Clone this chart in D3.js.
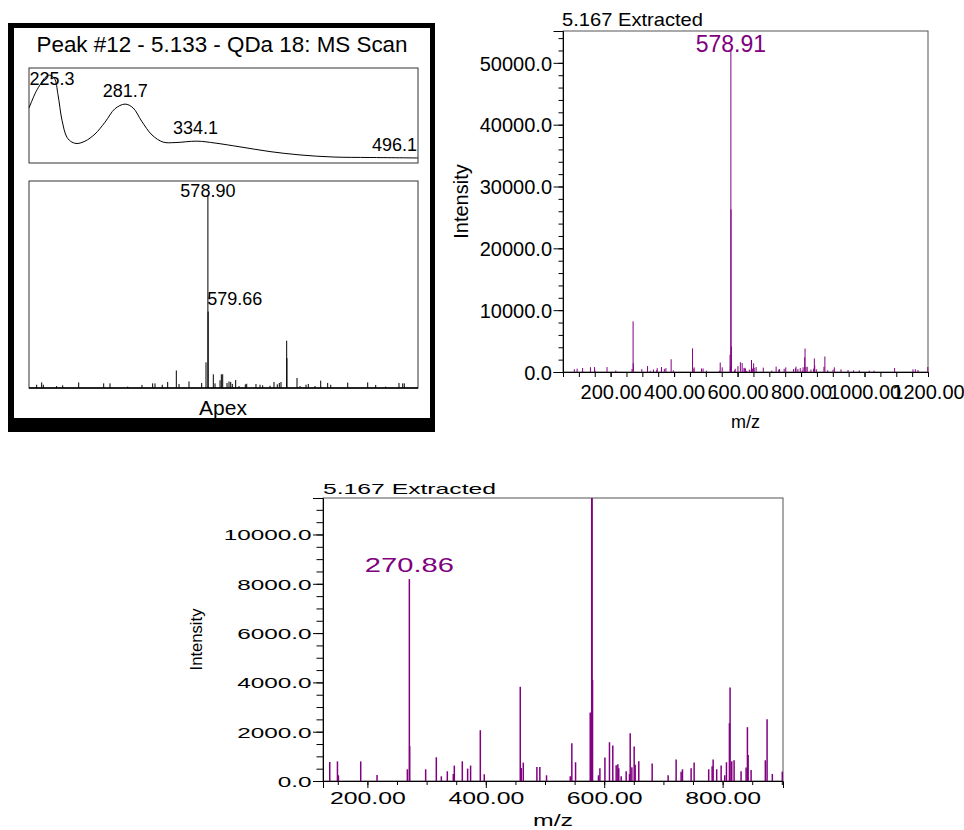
<!DOCTYPE html>
<html><head><meta charset="utf-8">
<script src="https://cdn.jsdelivr.net/npm/d3@7"></script>
<style>body{margin:0;background:#fff}svg{display:block}text{font-family:"Liberation Sans",Arial,sans-serif}</style>
</head><body><svg id="c" width="964" height="830"></svg>
<script>
// ---------------- DATA ----------------
const panelTitle = "Peak #12 - 5.133 - QDa 18: MS Scan";
const panelCaption = "Apex";
// UV spectrum (nm, relative absorbance)
const uvWavelength = [210,215.2,219,222,225.3,229,231.6,234.6,238.3,242,245.8,251.8,259.2,266.7,274,281.6,287.6,294,301.7,310,318.9,335.3,348.7,367.3,389.7,412,436.7,464.3,500];
const uvAbsorbance = [0.58,0.75,0.84,0.9,0.925,0.89,0.72,0.45,0.27,0.22,0.205,0.23,0.305,0.43,0.57,0.62,0.58,0.44,0.295,0.22,0.215,0.23,0.21,0.17,0.12,0.085,0.063,0.058,0.053];
const uvPeakLabels = [225.3, 281.7, 334.1, 496.1];
// Apex MS scan (m/z, relative intensity %)
const apexMz = [72.7,87.5,92.4,131.8,149.6,196.9,270.8,289.5,341.8,384,415.6,422.5,444,460,485.5,493.5,523,560.5,573.3,578.90,579.66,594.9,599.9,614.7,618.6,622.6,635.4,641.3,646.3,651,661,670.8,689.5,693.6,721,733,740.8,762.5,774.3,784,790,795,811.8,812.5,842.3,851.2,868.9,875.7,895.5,912.4,933,942,992.2,1051.3,1075,1104.5,1143.8,1154.8,1159.5];
const apexIntensity = [1.7,2.9,1.7,1.0,1.4,2.9,2.4,2.4,0.7,1.6,2.4,2.4,1.7,3.1,9.1,2.1,3.4,2.6,13.3,100,39.6,7.1,2.4,4.0,7.1,7.1,2.6,3.4,3.1,2.1,4.1,1.0,1.9,2.2,2.1,1.7,1.4,1.2,3.1,1.9,2.6,3.1,24.5,15.5,5.2,1.0,1.7,2.1,1.0,3.8,2.6,1.7,2.8,2.9,1.6,0.7,2.6,2.4,2.4];
const apexLabels = ["578.90", "579.66"];
// Extracted spectrum 5.167 (m/z, intensity)
const extTitle = "5.167 Extracted";
const extMz = [85.6,94.5,111.8,136.4,149.4,151.0,188.7,216.3,267.5,270.86,271.4,298.4,316.4,324.9,335.0,345.1,346.8,360.3,369.3,374.3,390.7,397.4,458.2,459.9,463.3,486.3,491.3,502.6,542.6,545.3,551.6,576.4,577.4,578.91,579.4,580.3,590.3,592.7,601.2,608.9,614.5,620.2,623.0,624.6,628.7,637.1,642.7,643.9,646.7,650.6,652.3,658.4,681.0,708.0,721.5,729.9,732.2,746.8,751.9,776.5,782.3,784.0,790.0,797.5,803.6,806.5,811.5,812.6,815.4,819.4,831.2,839.7,841.9,843.1,848.1,872.2,875.1,884.0,900.8,904.8,925.9,948.0,965.6,983.6,1015.0,1030.0,1094.8,1152.7,1160.0,1168.4,1199.5];
const extIntensity = [440,540,650,772,796,232,796,244,475,8190,1410,475,963,191,394,285,625,800,503,625,2060,272,3821,528,746,569,569,232,191,1532,760,2780,841,52000,26300,4094,232,516,951,1573,1439,638,678,516,191,392,285,1939,556,1398,664,800,706,232,868,380,475,516,746,475,597,868,475,625,232,760,2346,3797,800,841,392,543,2183,1057,448,841,2508,285,380,754,430,323,270,270,215,215,646,430,430,323,808];
const fullLabel = "578.91";
const zoomLabel = "270.86";
const xTitle = "m/z", yTitle = "Intensity";
// axis ticks
const fullXMajor = [200,400,600,800,1000,1200];
const fullYMajor = [0,10000,20000,30000,40000,50000];
const zoomXMajor = [200,400,600,800];
const zoomYMajor = [0,2000,4000,6000,8000,10000];

const PURPLE = "#800080";
const svg = d3.select("#c");

function stretch(sel, k){
  sel.each(function(){
    const w = this.getComputedTextLength();
    d3.select(this).attr("textLength", w*k).attr("lengthAdjust","spacingAndGlyphs");
  });
}

// ---------------- PANEL 1 (framed) ----------------
svg.append("rect").attr("x",8).attr("y",23).attr("width",427).attr("height",409).attr("fill","#000");
svg.append("rect").attr("x",14).attr("y",28).attr("width",416).attr("height",390).attr("fill","#fff");
svg.append("text").attr("x",222).attr("y",52).attr("text-anchor","middle").attr("font-size",22)
  .attr("textLength",371).attr("lengthAdjust","spacingAndGlyphs").text(panelTitle);

const uv = {l:29,r:418,t:68,b:163};
const uvX = d3.scaleLinear().domain([210,500]).range([uv.l,uv.r]);
const uvY = d3.scaleLinear().domain([0,1]).range([uv.b,uv.t]);
svg.append("rect").attr("x",uv.l).attr("y",uv.t).attr("width",uv.r-uv.l).attr("height",uv.b-uv.t)
  .attr("fill","none").attr("stroke","#333").attr("stroke-width",1);
const uvPts = uvWavelength.map((w,i)=>[w,uvAbsorbance[i]]);
svg.append("path").datum(uvPts)
  .attr("d", d3.line().x(d=>uvX(d[0])).y(d=>uvY(d[1])).curve(d3.curveCatmullRom))
  .attr("fill","none").attr("stroke","#000").attr("stroke-width",1);
const uvInterp = w => { const i = d3.bisector(d=>d[0]).left(uvPts,w); if(i<=0) return uvPts[0][1]; if(i>=uvPts.length) return uvPts[uvPts.length-1][1]; const a=uvPts[i-1], b=uvPts[i]; return a[1]+(b[1]-a[1])*(w-a[0])/(b[0]-a[0]); };
uvPeakLabels.forEach((w,i)=>{
  const last = i===uvPeakLabels.length-1;
  let y = Math.max(uvY(uvInterp(w))-7, uv.t+17);
  svg.append("text").attr("x", last ? uv.r-1 : (i===0 ? Math.max(uvX(w), uv.l+23) : uvX(w))).attr("y", y)
    .attr("text-anchor", last ? "end" : "middle").attr("font-size",18).text(w.toFixed(1));
});

const ap = {l:29,r:418,t:181,b:388};
const apX = d3.scaleLinear().domain([50,1200]).range([ap.l,ap.r]);
const apY = d3.scaleLinear().domain([0,107.3]).range([ap.b,ap.t]);
svg.append("rect").attr("x",ap.l).attr("y",ap.t).attr("width",ap.r-ap.l).attr("height",ap.b-ap.t)
  .attr("fill","none").attr("stroke","#333").attr("stroke-width",1);
svg.append("g").selectAll("line").data(apexMz.map((m,i)=>[m,apexIntensity[i]])).join("line")
  .attr("x1",d=>apX(d[0])).attr("x2",d=>apX(d[0])).attr("y1",ap.b).attr("y2",d=>apY(d[1]))
  .attr("stroke","#000").attr("stroke-width",1);
svg.append("line").attr("x1",ap.l).attr("x2",ap.r).attr("y1",ap.b).attr("y2",ap.b).attr("stroke","#000").attr("stroke-width",1.5);
{
  const i0 = apexMz.indexOf(578.90), i1 = apexMz.indexOf(579.66);
  svg.append("text").attr("x",apX(apexMz[i0])).attr("y",Math.max(apY(apexIntensity[i0])-7, ap.t+16))
    .attr("text-anchor","middle").attr("font-size",18).text(apexLabels[0]);
  svg.append("text").attr("x",apX(apexMz[i1])-1).attr("y",apY(apexIntensity[i1])-7)
    .attr("text-anchor","start").attr("font-size",18).text(apexLabels[1]);
}
svg.append("text").attr("x",223).attr("y",415).attr("text-anchor","middle").attr("font-size",21).text(panelCaption);

// ---------------- Spectrum chart helper ----------------
function spectrum(o){
  const g = svg.append("g");
  const x = d3.scaleLinear().domain(o.xDomain).range([o.l,o.r]);
  const y = d3.scaleLinear().domain(o.yDomain).range([o.b,o.t]).clamp(true);
  g.append("rect").attr("x",o.l).attr("y",o.t).attr("width",o.r-o.l).attr("height",o.b-o.t)
    .attr("fill","none").attr("stroke","#555").attr("stroke-width",1);
  g.append("g").selectAll("line").data(extMz.map((m,i)=>[m,extIntensity[i]]).filter(d=>d[0]>=o.xDomain[0]&&d[0]<=o.xDomain[1])).join("line")
    .attr("x1",d=>x(d[0])).attr("x2",d=>x(d[0])).attr("y1",o.b).attr("y2",d=>y(d[1]))
    .attr("stroke",PURPLE).attr("stroke-width",o.barW);
  const yMinor = d3.range(o.yDomain[0], o.yDomain[1], o.yMinorStep);
  g.append("g").attr("transform",`translate(${o.l},0)`)
    .call(d3.axisLeft(y).tickValues(yMinor).tickSize(o.minorLen).tickFormat(""))
    .call(s=>s.select(".domain").remove()).selectAll("line").attr("stroke","#000");
  const ya = g.append("g").attr("transform",`translate(${o.l},0)`)
    .call(d3.axisLeft(y).tickValues(o.yMajor).tickSize(o.majorLen).tickPadding(o.yPad).tickFormat(d3.format(".1f")));
  ya.select(".domain").attr("stroke","#000");
  ya.selectAll("line").attr("stroke","#000");
  ya.selectAll("text").attr("font-size",o.yFont).attr("fill","#000").attr("font-family",null).attr("dy","0.36em");
  const xMinor = d3.range(Math.ceil(o.xDomain[0]/50)*50, o.xDomain[1]+0.1, 50);
  g.append("g").attr("transform",`translate(0,${o.b})`)
    .call(d3.axisBottom(x).tickValues(xMinor).tickSize(o.xMinorLen).tickFormat(""))
    .call(s=>s.select(".domain").remove()).selectAll("line").attr("stroke","#000");
  const xa = g.append("g").attr("transform",`translate(0,${o.b})`)
    .call(d3.axisBottom(x).tickValues(o.xMajor).tickSize(o.xMajorLen).tickPadding(o.xPad).tickFormat(d3.format(".2f")));
  xa.select(".domain").attr("stroke","#000");
  xa.selectAll("line").attr("stroke","#000");
  xa.selectAll("text").attr("font-size",o.xFont).attr("fill","#000").attr("font-family",null);
  const t = g.append("text").attr("x",o.l-1).attr("y",o.t-5).attr("font-size",o.titleFont).text(extTitle);
  const xt = g.append("text").attr("x",(o.l+o.r)/2).attr("y",o.xTitleY).attr("text-anchor","middle").attr("font-size",o.axisFont).text(xTitle);
  const yt = g.append("text").attr("transform",`translate(${o.yTitleX},${(o.t+o.b)/2}) rotate(-90)`).attr("text-anchor","middle").attr("font-size",o.axisFont).text(yTitle);
  const li = extMz.indexOf(o.labelMz);
  const lb = g.append("text").attr("x",x(o.labelMz)).attr("y",Math.max(y(extIntensity[li])-7, o.t+o.labelFont*0.92))
    .attr("text-anchor","middle").attr("font-size",o.labelFont).attr("fill",PURPLE).text(o.labelText);
  return {g, ya, xa, t, xt, yt, lb};
}

// ---------------- Top-right chart ----------------
const c1 = spectrum({l:563,r:928,t:31,b:372, xDomain:[50,1200], yDomain:[0,55150],
  yMinorStep:2000, minorLen:4.5, majorLen:9.5, yPad:1.5, yMajor:fullYMajor, yFont:20,
  xMinorLen:5, xMajorLen:5, xPad:8, xMajor:fullXMajor, xFont:20,
  titleFont:19, axisFont:18, xTitleY:428, yTitleX:468, barW:1,
  labelMz:578.91, labelText:fullLabel, labelFont:23});
c1.t.attr("textLength",141).attr("lengthAdjust","spacingAndGlyphs");
c1.yt.attr("font-size",20);

// ---------------- Bottom chart ----------------
const c2 = spectrum({l:323,r:783,t:498,b:781, xDomain:[125,902], yDomain:[0,11480],
  yMinorStep:500, minorLen:6.5, majorLen:10, yPad:1.5, yMajor:zoomYMajor, yFont:15,
  xMinorLen:4, xMajorLen:7, xPad:5, xMajor:zoomXMajor, xFont:16,
  titleFont:15, axisFont:16, xTitleY:826, yTitleX:202, barW:1.5,
  labelMz:270.86, labelText:zoomLabel, labelFont:20});
stretch(c2.ya.selectAll("text"),1.62);
stretch(c2.xa.selectAll("text"),1.55);
c2.t.attr("x",323).attr("y",494).attr("textLength",173).attr("lengthAdjust","spacingAndGlyphs");
c2.lb.attr("y",571.5).attr("textLength",89).attr("lengthAdjust","spacingAndGlyphs");
stretch(c2.xt,1.55);
c2.yt.attr("font-size",17).attr("textLength",62).attr("lengthAdjust","spacingAndGlyphs");
</script></body></html>
